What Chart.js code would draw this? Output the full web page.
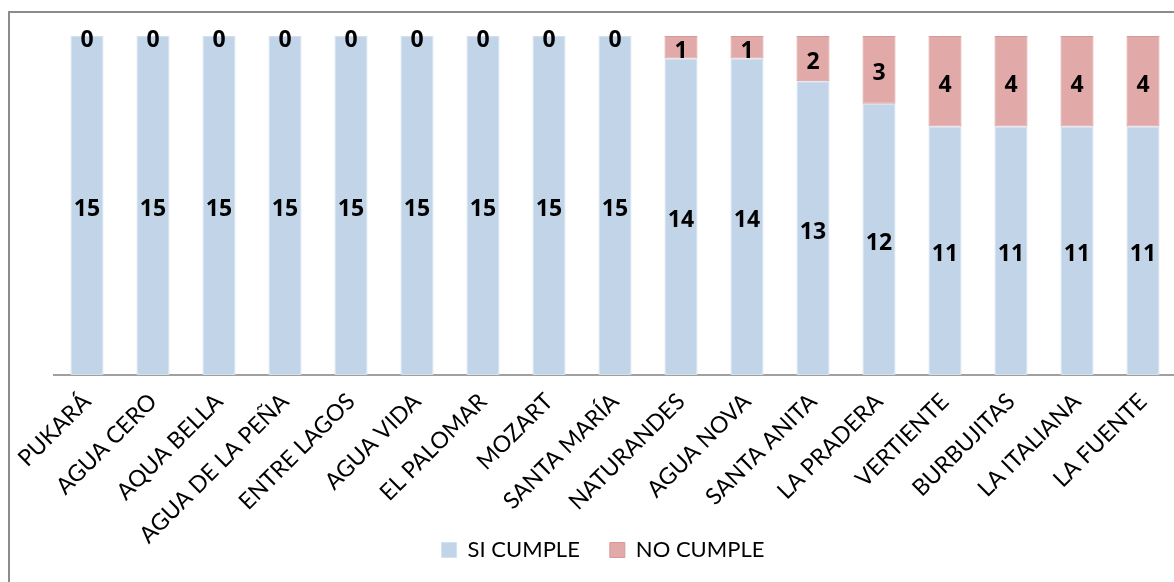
<!DOCTYPE html>
<html>
<head>
<meta charset="utf-8">
<script src="https://cdn.jsdelivr.net/npm/chart.js@4"></script>
<style>
  html, body { margin: 0; padding: 0; background: #fff; overflow: hidden; width: 1174px; height: 582px; }
  #frame { position: absolute; left: 8px; top: 11px; width: 1300px; height: 700px; border: 2px solid #8c8c8c; }
  #chart { position: absolute; left: 0; top: 0; }
</style>
</head>
<body>
<div id="frame"></div>
<canvas id="chart" width="1206" height="571"></canvas>
<script>
/* ── Cumplimiento por marca ── */
const marcas = ['PUKARÁ', 'AGUA CERO', 'AQUA BELLA', 'AGUA DE LA PEÑA', 'ENTRE LAGOS', 'AGUA VIDA',
  'EL PALOMAR', 'MOZART', 'SANTA MARÍA', 'NATURANDES', 'AGUA NOVA', 'SANTA ANITA', 'LA PRADERA',
  'VERTIENTE', 'BURBUJITAS', 'LA ITALIANA', 'LA FUENTE'];
const siCumple = [15, 15, 15, 15, 15, 15, 15, 15, 15, 14, 14, 13, 12, 11, 11, 11, 11];
const noCumple = [0, 0, 0, 0, 0, 0, 0, 0, 0, 1, 1, 2, 3, 4, 4, 4, 4];

const FONT = 'Lato, "Open Sans", sans-serif';

// Etiquetas centradas en cada segmento
const segLabels = {
  id: 'segLabels',
  afterLayout(chart) {
    // que las etiquetas rotadas no se corten al alto del eje
    chart.scales.x.bottom = chart.height;
  },
  afterDatasetsDraw(chart) {
    const ctx = chart.ctx;
    ctx.save();
    ctx.font = 'bold 23px "Open Sans", sans-serif';
    ctx.fillStyle = '#000';
    ctx.textAlign = 'center';
    ctx.textBaseline = 'alphabetic';
    chart.data.datasets.forEach((ds, i) => {
      chart.getDatasetMeta(i).data.forEach((bar, j) => {
        const y = (bar.y + bar.base) / 2;
        ctx.fillText(String(ds.data[j]), bar.x, y + 10.5);
      });
    });
    ctx.restore();
  }
};

// ejes invisibles que solo reservan margen
const hiddenAxis = (position, width) => ({
  position,
  display: true,
  grid: { display: false, drawTicks: false },
  border: { display: false },
  ticks: { display: false },
  afterFit: (s) => { s.width = width; },
});

new Chart(document.getElementById('chart'), {
  type: 'bar',
  data: {
    labels: marcas,
    datasets: [
      {
        label: 'SI CUMPLE',
        data: siCumple,
        backgroundColor: '#c1d4e8',
        borderColor: '#d3e0ee',
        borderWidth: 1,
        borderSkipped: false,
      },
      {
        label: 'NO CUMPLE',
        data: noCumple,
        backgroundColor: '#e2a9a9',
        borderColor: '#d99797',
        borderWidth: 1,
        borderSkipped: false,
      },
    ],
  },
  options: {
    responsive: false,
    animation: false,
    layout: { padding: { left: 0, right: 0, top: 36, bottom: 0 } },
    datasets: { bar: { categoryPercentage: 1, barPercentage: 0.5 } },
    plugins: {
      legend: {
        position: 'bottom',
        labels: {
          color: '#000',
          font: { family: FONT, size: 22 },
          boxWidth: 15,
          boxHeight: 15,
          padding: 30,
        },
      },
      tooltip: { enabled: false },
    },
    scales: {
      x: {
        stacked: true,
        grid: { display: false, drawTicks: false },
        border: { display: true, color: '#a0a0a0', width: 2 },
        ticks: {
          color: '#000',
          font: { family: FONT, size: 23 },
          minRotation: 45,
          maxRotation: 45,
          autoSkip: false,
          padding: 13,
        },
        afterFit: (s) => { s.height = 134; },
      },
      y: {
        ...hiddenAxis('left', 54),
        stacked: true,
        min: 0,
        max: 15,
      },
      yR: {
        ...hiddenAxis('right', 30),
        type: 'linear',
        min: 0,
        max: 15,
      },
    },
  },
  plugins: [segLabels],
});
</script>
</body>
</html>
